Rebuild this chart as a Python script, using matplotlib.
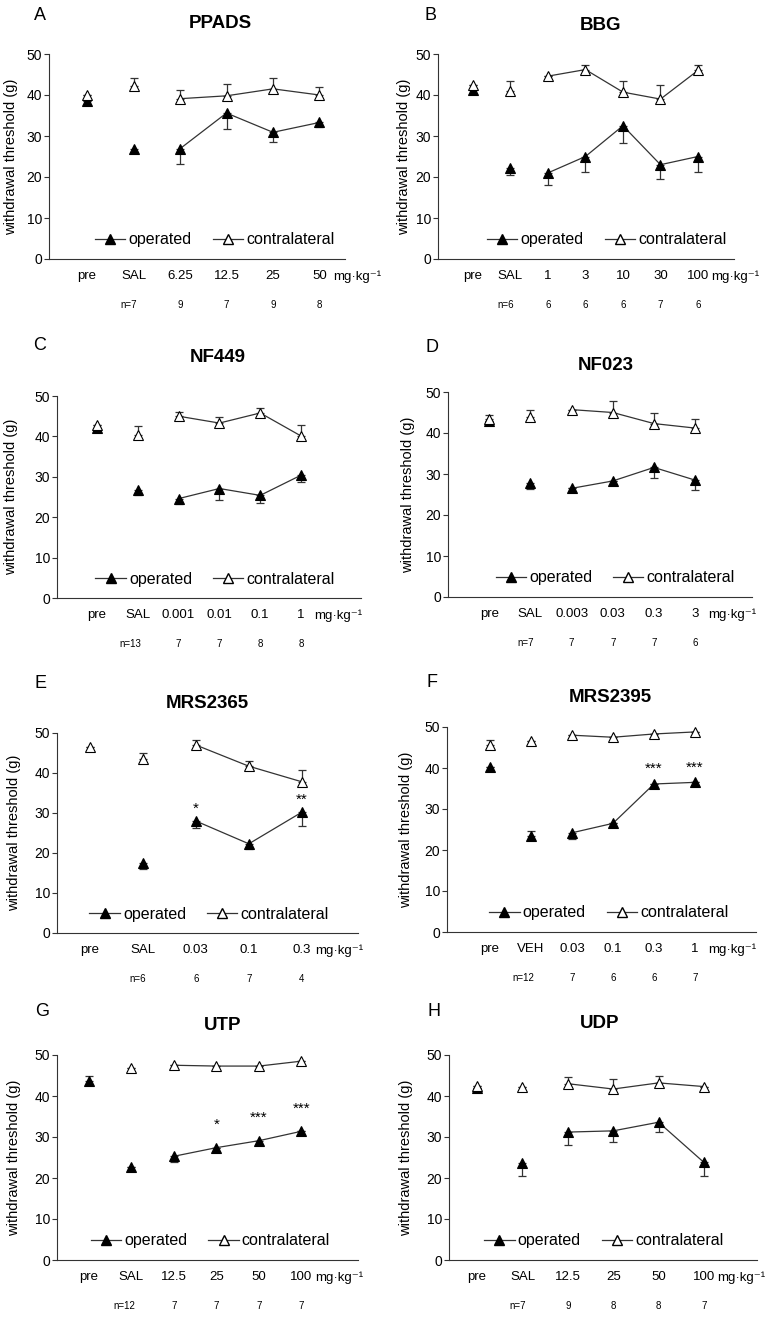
import numpy as np
import matplotlib
matplotlib.use('Agg')
import matplotlib.pyplot as plt
from matplotlib.lines import Line2D

plt.rcParams['font.family'] = ['Liberation Sans', 'DejaVu Sans']

nan = np.nan

# A - PPADS
a_cats = ['pre', 'SAL', '6.25', '12.5', '25', '50']
a_op = [38.5, 26.9, 26.9, 35.6, 30.9, 33.3]
a_op_lo = [0, 0.7, 3.8, 4.0, 2.3, 1.2]
a_op_hi = [0, 0, 0, 0, 0, 0]
a_con = [40.0, 42.3, 39.1, 39.8, 41.5, 40.0]
a_con_hi = [0, 1.8, 2.0, 2.8, 2.6, 2.0]
a_n = [7, 9, 7, 9, 8]
a_stars = ['', '', '', '', '', '']

# B - BBG
b_cats = ['pre', 'SAL', '1', '3', '10', '30', '100']
b_op = [41.3, 22.3, 21.0, 25.0, 32.5, 23.0, 25.0]
b_op_lo = [0, 1.8, 3.0, 3.7, 4.1, 3.5, 3.9]
b_op_hi = [0, 0, 0, 0, 0, 0, 0]
b_con = [42.4, 41.0, 44.6, 46.2, 40.7, 39.0, 46.0]
b_con_hi = [0, 2.3, 0, 1.0, 2.6, 3.5, 1.4]
b_n = [6, 6, 6, 6, 7, 6]
b_stars = ['', '', '', '', '', '', '']

# C - NF449
c_cats = ['pre', 'SAL', '0.001', '0.01', '0.1', '1']
c_op = [42.0, 26.8, 24.6, 27.1, 25.4, 30.4]
c_op_lo = [0, 1.2, 1.3, 2.8, 1.8, 1.6]
c_op_hi = [0, 0, 0, 0, 0, 0]
c_con = [42.7, 40.3, 45.0, 43.3, 45.8, 40.1]
c_con_hi = [0, 2.3, 1.0, 1.5, 1.2, 2.7]
c_n = [13, 7, 7, 8, 8]
c_stars = ['', '', '', '', '', '']

# D - NF023
d_cats = ['pre', 'SAL', '0.003', '0.03', '0.3', '3']
d_op = [42.9, 27.8, 26.5, 28.3, 31.6, 28.5]
d_op_lo = [0, 1.4, 0, 0, 2.5, 2.4]
d_op_hi = [0, 0, 0, 0, 0, 0]
d_con = [43.5, 43.8, 45.7, 45.0, 42.3, 41.2]
d_con_hi = [1.0, 1.9, 0, 2.8, 2.5, 2.2]
d_n = [7, 7, 7, 7, 6]
d_stars = ['', '', '', '', '', '']

# E - MRS2365
e_cats = ['pre', 'SAL', '0.03', '0.1', '0.3']
e_op = [nan, 17.4, 28.0, 22.3, 30.2]
e_op_lo = [0, 1.3, 1.7, 1.2, 3.4]
e_op_hi = [0, 0, 0, 0, 0]
e_con = [46.5, 43.5, 47.0, 41.7, 37.8]
e_con_hi = [0, 1.5, 1.3, 1.2, 3.0]
e_n = [6, 6, 7, 4]
e_stars = ['', '', '*', '', '**']

# F - MRS2395
f_cats = ['pre', 'VEH', '0.03', '0.1', '0.3', '1']
f_op = [40.2, 23.5, 24.2, 26.5, 36.1, 36.5]
f_op_lo = [0, 0, 1.5, 0, 0, 0]
f_op_hi = [0, 1.2, 0, 0, 0, 0]
f_con = [45.5, 46.6, 48.0, 47.5, 48.3, 48.8]
f_con_hi = [1.3, 0, 0, 0, 0, 0]
f_n = [12, 7, 6, 6, 7]
f_stars = ['', '', '', '', '***', '***']

# G - UTP
g_cats = ['pre', 'SAL', '12.5', '25', '50', '100']
g_op = [43.6, 22.6, 25.3, 27.4, 29.1, 31.4]
g_op_lo = [0, 0, 1.3, 0, 1.1, 0]
g_op_hi = [1.3, 0, 0, 0, 0, 0]
g_con = [nan, 46.8, 47.5, 47.3, 47.3, 48.5]
g_con_hi = [0, 0, 0, 0, 0, 0]
g_n = [12, 7, 7, 7, 7]
g_stars = ['', '', '', '*', '***', '***']

# H - UDP
h_cats = ['pre', 'SAL', '12.5', '25', '50', '100']
h_op = [41.9, 23.6, 31.2, 31.5, 33.6, 23.8]
h_op_lo = [0, 3.1, 3.2, 2.6, 2.5, 3.2]
h_op_hi = [0, 0, 0, 0, 0, 0]
h_con = [42.4, 42.2, 43.0, 41.7, 43.2, 42.3]
h_con_hi = [0, 0, 1.6, 2.5, 1.7, 0]
h_n = [7, 9, 8, 8, 7]
h_stars = ['', '', '', '', '', '']

W, H = 779, 1320
fig = plt.figure(figsize=(W / 100, H / 100), dpi=100)

# letter, title, data, pixel box (left, right, top, bottom), xlim, legend x, title pos, ylabel x, star offset, letter pos
panels = [
    ('A', 'PPADS', (a_cats, a_op, a_op_lo, a_op_hi, a_con, a_con_hi, a_n, a_stars),
     (49, 345, 54, 259), (-0.82, 5.55), 0.56, (0.58, 1.15), -0.103, 0, (40, 15)),
    ('B', 'BBG', (b_cats, b_op, b_op_lo, b_op_hi, b_con, b_con_hi, b_n, b_stars),
     (438, 734, 54, 259), (-0.93, 6.96), 0.57, (0.55, 1.14), -0.09, 0, (431, 15)),
    ('C', 'NF449', (c_cats, c_op, c_op_lo, c_op_hi, c_con, c_con_hi, c_n, c_stars),
     (57, 361, 396, 598), (-0.98, 6.47), 0.52, (0.53, 1.19), -0.127, 0, (40, 345)),
    ('D', 'NF023', (d_cats, d_op, d_op_lo, d_op_hi, d_con, d_con_hi, d_n, d_stars),
     (448, 752, 392, 597), (-1.0, 6.38), 0.55, (0.52, 1.13), -0.11, 0, (432, 347)),
    ('E', 'MRS2365', (e_cats, e_op, e_op_lo, e_op_hi, e_con, e_con_hi, e_n, e_stars),
     (57, 358, 733, 933), (-0.62, 5.06), 0.505, (0.50, 1.15), -0.121, 3.1, (40, 683)),
    ('F', 'MRS2395', (f_cats, f_op, f_op_lo, f_op_hi, f_con, f_con_hi, f_n, f_stars),
     (447, 756, 727, 932), (-1.05, 6.49), 0.524, (0.53, 1.146), -0.11, 3.6, (432, 682)),
    ('G', 'UTP', (g_cats, g_op, g_op_lo, g_op_hi, g_con, g_con_hi, g_n, g_stars),
     (57, 358, 1055, 1260), (-0.75, 6.33), 0.51, (0.55, 1.146), -0.121, 5.55, (42, 1012)),
    ('H', 'UDP', (h_cats, h_op, h_op_lo, h_op_hi, h_con, h_con_hi, h_n, h_stars),
     (449, 757, 1055, 1260), (-0.62, 6.17), 0.503, (0.49, 1.156), -0.118, 0, (434, 1012)),
]

lc = '#333333'
for letter, title, data, box, xlim, leg_x, tpos, ylx, star_off, lpos in panels:
    cats, op, op_lo, op_hi, con, con_hi, ns, stars = data
    left, right, top, bottom = box
    ax = fig.add_axes([left / W, 1 - bottom / H, (right - left) / W, (bottom - top) / H])
    x = np.arange(len(cats))

    # connecting lines only through the dose points
    ax.plot(x[2:], op[2:], color=lc, lw=0.9, zorder=2)
    ax.plot(x[2:], con[2:], color=lc, lw=0.9, zorder=2)
    ax.errorbar(x, op, yerr=[op_lo, op_hi], fmt='none', ecolor=lc, elinewidth=0.9,
                capsize=3, capthick=0.9, zorder=3, clip_on=False)
    ax.errorbar(x, con, yerr=[np.zeros(len(x)), con_hi], fmt='none', ecolor=lc,
                elinewidth=0.9, capsize=3, capthick=0.9, zorder=3, clip_on=False)
    ax.plot(x, op, ls='none', marker='^', ms=6.5, mfc='black', mec='black', mew=0.8,
            zorder=4, clip_on=False)
    ax.plot(x, con, ls='none', marker='^', ms=6.5, mfc='white', mec='black', mew=0.8,
            zorder=5, clip_on=False)

    for i, s in enumerate(stars):
        if s:
            ax.text(x[i], op[i] + star_off, s, ha='center', va='center', fontsize=11)

    ax.set_xlim(*xlim)
    ax.set_ylim(0, 50)
    ax.set_yticks([0, 10, 20, 30, 40, 50])
    ax.set_xticks(x)
    ax.set_xticklabels(cats, fontsize=9.5)
    ax.tick_params(axis='x', length=0, pad=8)
    ax.tick_params(axis='y', length=3.5, width=0.8, pad=1.5, labelsize=10, color=lc)
    for sp in ['top', 'right']:
        ax.spines[sp].set_visible(False)
    for sp in ['left', 'bottom']:
        ax.spines[sp].set_linewidth(0.8)
        ax.spines[sp].set_color(lc)

    ax.set_ylabel('withdrawal threshold (g)', fontsize=10.5)
    ax.yaxis.set_label_coords(ylx, 0.5)

    ax.annotate('mg·kg⁻¹', xy=(x[-1], 0), xycoords=('data', 'axes fraction'),
                xytext=(27, -13), textcoords='offset points', ha='center', va='center',
                fontsize=9.5)
    for j, n in enumerate(ns):
        if j == 0:
            ax.annotate('n=%d' % n, xy=(x[1], 0), xycoords=('data', 'axes fraction'),
                        xytext=(2.5, -33), textcoords='offset points', ha='right',
                        va='center', fontsize=7)
        else:
            ax.annotate(str(n), xy=(x[j + 1], 0), xycoords=('data', 'axes fraction'),
                        xytext=(0, -33), textcoords='offset points', ha='center',
                        va='center', fontsize=7)

    handles = [
        Line2D([], [], color=lc, lw=0.9, marker='^', ms=6.5, mfc='black', mec='black'),
        Line2D([], [], color=lc, lw=0.9, marker='^', ms=6.5, mfc='white', mec='black'),
    ]
    ax.legend(handles, ['operated', 'contralateral'], loc='center', ncol=2,
              bbox_to_anchor=(leg_x, 0.093), frameon=False, fontsize=11.5,
              handlelength=1.9, handletextpad=0.2, columnspacing=1.3,
              borderpad=0, borderaxespad=0)

    ax.text(tpos[0], tpos[1], title, transform=ax.transAxes, ha='center', va='center',
            fontsize=13.5, fontweight='bold')
    fig.text(lpos[0] / W, 1 - lpos[1] / H, letter, ha='center', va='center', fontsize=13)

fig.savefig('out.png', dpi=100)
